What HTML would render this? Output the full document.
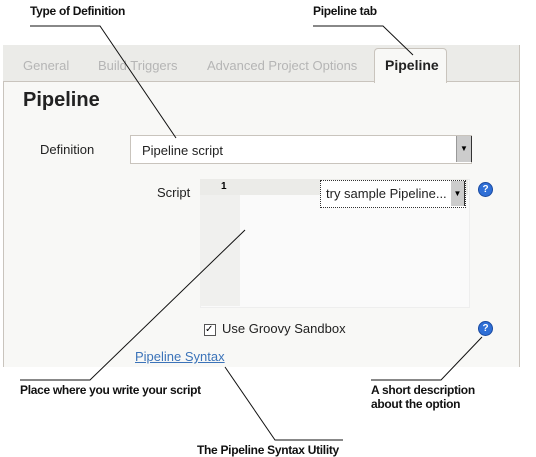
<!DOCTYPE html><html><head><style>
body{margin:0;width:536px;height:457px;background:#fff;position:relative;overflow:hidden;font-family:"Liberation Sans",sans-serif}
.a{position:absolute}
.ann{font-weight:bold;font-size:12px;color:#111;letter-spacing:-0.3px}
.help{width:13px;height:13px;border-radius:50%;background:#2f6fd6;border:1px solid #1a4aa0;color:#fff;font-size:10px;font-weight:bold;text-align:center;line-height:13px}
</style></head><body>
<div class="a" style="left:3px;top:45px;width:515px;height:322px;background:#f8f8f6;border-left:1px solid #c9c4bd;border-right:1px solid #c9c4bd"></div>
<div class="a" style="left:3px;top:45px;width:516px;height:36px;background:#ebebe8;border-bottom:1px solid #c9c4bd"></div>
<div class="a" style="left:374px;top:48px;width:71px;height:34px;background:#f8f8f6;border:1px solid #c9c4bd;border-bottom:none;border-radius:4px 4px 0 0"></div>
<div class="a" style="left:23px;top:58px;font-size:13px;color:#b5b5b5">General</div>
<div class="a" style="left:98px;top:58px;font-size:13px;color:#b5b5b5">Build Triggers</div>
<div class="a" style="left:207px;top:58px;font-size:13px;color:#b5b5b5">Advanced Project Options</div>
<div class="a" style="left:385px;top:57px;font-size:14px;font-weight:bold;color:#222">Pipeline</div>
<div class="a" style="left:23px;top:89px;font-size:20px;font-weight:bold;color:#222">Pipeline</div>
<div class="a" style="left:40px;top:142px;font-size:13px;color:#222">Definition</div>
<div class="a" style="left:130px;top:135px;width:340px;height:27px;background:#fff;border:1px solid #c9c4bd"></div>
<div class="a" style="left:142px;top:143px;font-size:13px;color:#222">Pipeline script</div>
<div class="a" style="left:456px;top:136px;width:14px;height:26px;background:#ccc;border-left:1px solid #999;border-right:1px solid #333;font-size:8px;line-height:26px;text-align:center">▼</div>
<div class="a" style="left:157px;top:185px;font-size:13px;color:#222">Script</div>
<div class="a" style="left:200px;top:179px;width:268px;height:127px;background:#fafafa;border:1px solid #eee"></div>
<div class="a" style="left:200px;top:179px;width:40px;height:127px;background:#f0f0ee"></div>
<div class="a" style="left:200px;top:179px;width:268px;height:16px;background:#ebebe8"></div>
<div class="a" style="left:221px;top:181px;font-size:10px;font-weight:bold">1</div>
<div class="a" style="left:320px;top:180px;width:144px;height:26px;background:#fff;border:1px dotted #333"></div>
<div class="a" style="left:326px;top:186px;font-size:13px;color:#222">try sample Pipeline...</div>
<div class="a" style="left:451px;top:181px;width:13px;height:25px;background:#ccc;border-right:1px solid #333;font-size:8px;line-height:25px;text-align:center">▼</div>
<div class="a help" style="left:478px;top:182px">?</div>
<div class="a" style="left:204px;top:324px;width:10px;height:10px;border:1px solid #555;background:#fff;font-size:10px;line-height:10px">✓</div>
<div class="a" style="left:222px;top:321px;font-size:13px;color:#222">Use Groovy Sandbox</div>
<div class="a help" style="left:478px;top:321px">?</div>
<div class="a" style="left:135px;top:349px;font-size:13px;color:#3b73b9;text-decoration:underline">Pipeline Syntax</div>
<div class="a ann" style="left:30px;top:4px">Type of Definition</div>
<div class="a ann" style="left:313px;top:4px">Pipeline tab</div>
<div class="a ann" style="left:20px;top:383px">Place where you write your script</div>
<div class="a ann" style="left:371px;top:383px;line-height:14px">A short description<br>about the option</div>
<div class="a ann" style="left:197px;top:443px">The Pipeline Syntax Utility</div>
<svg class="a" style="left:0;top:0" width="536" height="457">
<g fill="none" stroke="#111" stroke-width="1">
<polyline points="30,26 100,26 176,138"/>
<polyline points="313,26 383,26 413,55"/>
<polyline points="20,380 90,380 245,230"/>
<polyline points="343,440 275,440 225,367"/>
<polyline points="371,380 441,380 482,337"/>
</g></svg>
</body></html>
